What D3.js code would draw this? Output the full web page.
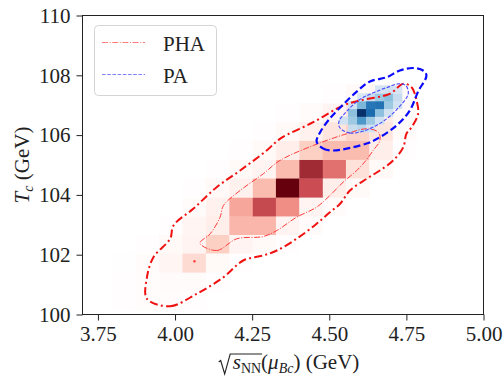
<!DOCTYPE html>
<html><head><meta charset="utf-8">
<script src="https://cdn.jsdelivr.net/npm/d3@7/dist/d3.min.js"></script>
<style>body{margin:0;background:#fff}svg{display:block}</style>
</head><body>
<svg id="c" width="504" height="376"></svg>
<script>
// ---------- data ----------
const xTicks = [3.75, 4.00, 4.25, 4.50, 4.75, 5.00];
const yTicks = [100, 102, 104, 106, 108, 110];
const seriesNames = ["PHA", "PA"];

// PHA 2D histogram (relative density), rows bottom->top
const phaXEdges = [3.721, 3.797, 3.872, 3.948, 4.024, 4.100, 4.176, 4.252, 4.327, 4.403, 4.479, 4.554, 4.630, 4.706, 4.782];
const phaYEdges = [100.15, 100.78, 101.41, 102.05, 102.67, 103.29, 103.92, 104.56, 105.18, 105.82, 106.44, 107.07, 107.70];
const phaDensity = [
  [0,0.01,0.015,0.015,0.01,0,0,0,0,0,0,0,0,0],
  [0,0.01,0.015,0.02,0.02,0.01,0,0,0,0,0,0,0,0],
  [0,0.005,0.02,0.04,0.15,0.03,0.01,0,0,0,0,0,0,0],
  [0,0,0.01,0.03,0.05,0.2,0.05,0.03,0.01,0,0,0,0,0],
  [0,0,0,0.01,0.04,0.07,0.32,0.32,0.05,0.02,0,0,0,0],
  [0,0,0,0,0.02,0.06,0.38,0.72,0.48,0.05,0.02,0,0,0],
  [0,0,0,0,0.01,0.03,0.06,0.3,1.0,0.66,0.07,0.03,0,0],
  [0,0,0,0,0,0.01,0.03,0.05,0.3,0.86,0.56,0.12,0.03,0],
  [0,0,0,0,0,0,0.01,0.03,0.07,0.2,0.3,0.3,0.07,0.01],
  [0,0,0,0,0,0,0,0.01,0.03,0.06,0.1,0.18,0.1,0.02],
  [0,0,0,0,0,0,0,0,0.01,0.02,0.05,0.1,0.08,0.03],
  [0,0,0,0,0,0,0,0,0,0,0.01,0.03,0.04,0.02]
];

// PA 2D histogram
const paXEdges = [4.5316, 4.5608, 4.5900, 4.6192, 4.6484, 4.6776, 4.7068, 4.7360];
const paYEdges = [106.10, 106.36, 106.62, 106.88, 107.14, 107.40, 107.66];
const paDensity = [
  [0,0.15,0.2,0.1,0,0,0],
  [0.1,0.3,0.55,0.3,0.1,0,0],
  [0,0.35,1.0,0.75,0.35,0.1,0],
  [0,0.1,0.4,0.7,0.72,0.3,0.1],
  [0,0,0.05,0.15,0.3,0.35,0.15],
  [0,0,0,0,0.08,0.1,0.08]
];

// contour levels [x, y]
const phaOuter = [[3.909,100.525],[3.984,100.278],[4.070,100.692],[4.157,101.247],[4.221,101.806],[4.286,101.973],[4.330,102.140],[4.394,102.532],[4.459,103.033],[4.502,103.421],[4.535,103.702],[4.567,104.147],[4.621,104.538],[4.664,104.816],[4.707,105.151],[4.740,105.595],[4.750,106.043],[4.767,106.264],[4.788,106.712],[4.783,107.157],[4.767,107.602],[4.740,107.716],[4.696,107.381],[4.599,107.157],[4.545,106.990],[4.448,106.431],[4.340,105.876],[4.297,105.485],[4.211,104.816],[4.135,104.258],[4.059,103.535],[3.995,102.977],[3.984,102.532],[3.930,101.916],[3.909,101.247]];
const phaInner = [[4.081,102.385],[4.135,102.140],[4.200,102.532],[4.286,102.609],[4.330,102.809],[4.394,103.254],[4.459,103.589],[4.502,103.980],[4.545,104.425],[4.589,104.816],[4.619,105.151],[4.642,105.485],[4.664,105.819],[4.659,106.097],[4.621,106.211],[4.556,106.043],[4.448,105.652],[4.340,105.151],[4.286,104.706],[4.211,104.147],[4.157,103.645],[4.146,103.254],[4.114,102.699]];
const phaIsland = [[4.061,101.795],[4.065,101.795],[4.065,101.770],[4.061,101.770]];
const paOuter = [[4.459,105.786],[4.480,105.552],[4.513,105.485],[4.621,105.719],[4.664,105.930],[4.718,106.321],[4.761,106.823],[4.788,107.458],[4.815,107.993],[4.804,108.161],[4.772,108.244],[4.729,108.161],[4.686,107.936],[4.632,107.793],[4.593,107.492],[4.545,107.023],[4.502,106.555],[4.470,106.087]];
const paInner = [[4.535,106.237],[4.567,106.070],[4.616,106.154],[4.674,106.455],[4.722,106.890],[4.756,107.381],[4.748,107.659],[4.726,107.716],[4.687,107.592],[4.645,107.425],[4.599,107.191],[4.556,106.789],[4.531,106.438]];

// ---------- drawing ----------
const svg = d3.select("#c");
const FONT = "'Liberation Serif','DejaVu Serif',serif";
const x = d3.scaleLinear().domain([3.7, 5.0]).range([82.5, 483.5]);
const y = d3.scaleLinear().domain([100, 110]).range([314.5, 15.5]);

const redColor = d3.scaleLinear()
  .domain([0, 0.02, 0.05, 0.1, 0.2, 0.3, 0.4, 0.5, 0.65, 0.72, 0.86, 1])
  .range(["#ffffff","#fffbfa","#fff4f1","#fee6df","#fdd0c4","#fbbcb0","#f6a097","#ef8a80","#cc4c54","#c44a50","#a02b35","#67000d"])
  .interpolate(d3.interpolateRgb);
const blueColor = v => d3.interpolateBlues(0.1 + 0.9 * v);

const plot = svg.append("g");
plot.append("defs").append("clipPath").attr("id","clip")
  .append("rect").attr("x", x(3.7)).attr("y", y(110)).attr("width", x(5)-x(3.7)).attr("height", y(100)-y(110));
const inner = plot.append("g").attr("clip-path","url(#clip)");

function cells(edgesX, edgesY, dens) {
  const out = [];
  dens.forEach((row, j) => row.forEach((v, i) => {
    if (v > 0) out.push({x0: edgesX[i], x1: edgesX[i+1], y0: edgesY[j], y1: edgesY[j+1], v});
  }));
  return out;
}
inner.append("g").selectAll("rect").data(cells(phaXEdges, phaYEdges, phaDensity)).join("rect")
  .attr("x", d => x(d.x0)).attr("y", d => y(d.y1))
  .attr("width", d => x(d.x1) - x(d.x0) + 0.3).attr("height", d => y(d.y0) - y(d.y1) + 0.3)
  .attr("fill", d => redColor(d.v));
inner.append("g").selectAll("rect").data(cells(paXEdges, paYEdges, paDensity)).join("rect")
  .attr("x", d => x(d.x0)).attr("y", d => y(d.y1))
  .attr("width", d => x(d.x1) - x(d.x0) + 0.3).attr("height", d => y(d.y0) - y(d.y1) + 0.3)
  .attr("fill", d => blueColor(d.v));

const line = d3.line().x(d => x(d[0])).y(d => y(d[1])).curve(d3.curveCatmullRomClosed.alpha(0.5));
inner.append("path").attr("d", line(phaInner)).attr("fill","none")
  .attr("stroke","#ff3b3b").attr("stroke-width",1).attr("stroke-dasharray","6,1.6,1,1.6");
inner.append("path").attr("d", line(phaIsland)).attr("fill","none")
  .attr("stroke","#ff3b3b").attr("stroke-width",1.2);
inner.append("path").attr("d", line(phaOuter)).attr("fill","none")
  .attr("stroke","#f01010").attr("stroke-width",2).attr("stroke-dasharray","8,3.2,2,3.2");
inner.append("path").attr("d", line(paInner)).attr("fill","none")
  .attr("stroke","#4a4aff").attr("stroke-width",1.1).attr("stroke-dasharray","3.6,1.6");
inner.append("path").attr("d", line(paOuter)).attr("fill","none")
  .attr("stroke","#0a0aff").attr("stroke-width",2.2).attr("stroke-dasharray","7,3.3");

// frame
svg.append("rect").attr("x", x(3.7)).attr("y", y(110)).attr("width", x(5)-x(3.7)).attr("height", y(100)-y(110))
  .attr("fill","none").attr("stroke","#222").attr("stroke-width",1);

// axes
const xa = svg.append("g").attr("transform", `translate(0,${y(100)})`)
  .call(d3.axisBottom(x).tickValues(xTicks).tickFormat(d3.format(".2f")).tickSize(6).tickPadding(6));
const ya = svg.append("g").attr("transform", `translate(${x(3.7)},0)`)
  .call(d3.axisLeft(y).tickValues(yTicks).tickFormat(d3.format("d")).tickSize(6).tickPadding(6));
[xa, ya].forEach(a => {
  a.select(".domain").remove();
  a.selectAll("line").attr("stroke","#222");
  a.selectAll("text").attr("font-family", FONT).attr("font-size", 21).attr("fill","#222");
});

// legend
const lg = svg.append("g");
lg.append("rect").attr("x",94.5).attr("y",25.5).attr("width",122).attr("height",70).attr("rx",4)
  .attr("fill","#fff").attr("fill-opacity",0.8).attr("stroke","#d4d4d4").attr("stroke-width",1);
lg.append("line").attr("x1",102).attr("x2",145).attr("y1",42.5).attr("y2",42.5)
  .attr("stroke","#ff7f7f").attr("stroke-width",1.2).attr("stroke-dasharray","6,1.6,1,1.6");
lg.append("line").attr("x1",102).attr("x2",145).attr("y1",74.5).attr("y2",74.5)
  .attr("stroke","#7f7fff").attr("stroke-width",1.2).attr("stroke-dasharray","3.6,1.6");
lg.append("text").attr("x",163).attr("y",50.5).text(seriesNames[0])
  .attr("font-family",FONT).attr("font-size",21).attr("fill","#222");
lg.append("text").attr("x",163).attr("y",83).text(seriesNames[1])
  .attr("font-family",FONT).attr("font-size",21).attr("fill","#222");

// x label
const xl = svg.append("text").attr("x", (x(3.7)+x(5))/2).attr("y", 369)
  .attr("text-anchor","middle").attr("font-family",FONT).attr("font-size",21).attr("fill","#222");
xl.append("tspan").attr("dx",13).attr("font-style","italic").text("s");
xl.append("tspan").attr("font-size",14).attr("dy",4).text("NN");
xl.append("tspan").attr("dy",-4).text("(");
xl.append("tspan").attr("font-style","italic").text("μ");
xl.append("tspan").attr("font-style","italic").attr("font-size",14).attr("dy",4).text("Bc");
xl.append("tspan").attr("dy",-4).text(")  (GeV)");
const n = xl.node();
const s0 = n.getExtentOfChar(0), s2 = n.getExtentOfChar(2);
const rx0 = s0.x - 1, rEnd = s2.x + s2.width + 1;
const topY = 354, baseY = 369;
svg.append("path")
  .attr("d", `M${rx0-13},${baseY-7} L${rx0-11},${baseY-8.5} L${rx0-7},${baseY+5} L${rx0-1.5},${topY} L${rEnd},${topY}`)
  .attr("fill","none").attr("stroke","#222").attr("stroke-width",1.1);

// y label
const yl = svg.append("text").attr("transform", `translate(29,${(y(100)+y(110))/2}) rotate(-90)`)
  .attr("text-anchor","middle").attr("font-family",FONT).attr("font-size",21).attr("fill","#222");
yl.append("tspan").attr("font-style","italic").text("T");
yl.append("tspan").attr("font-style","italic").attr("font-size",14).attr("dy",4).text("c");
yl.append("tspan").attr("dy",-4).text(" (GeV)");
</script>
</body></html>
